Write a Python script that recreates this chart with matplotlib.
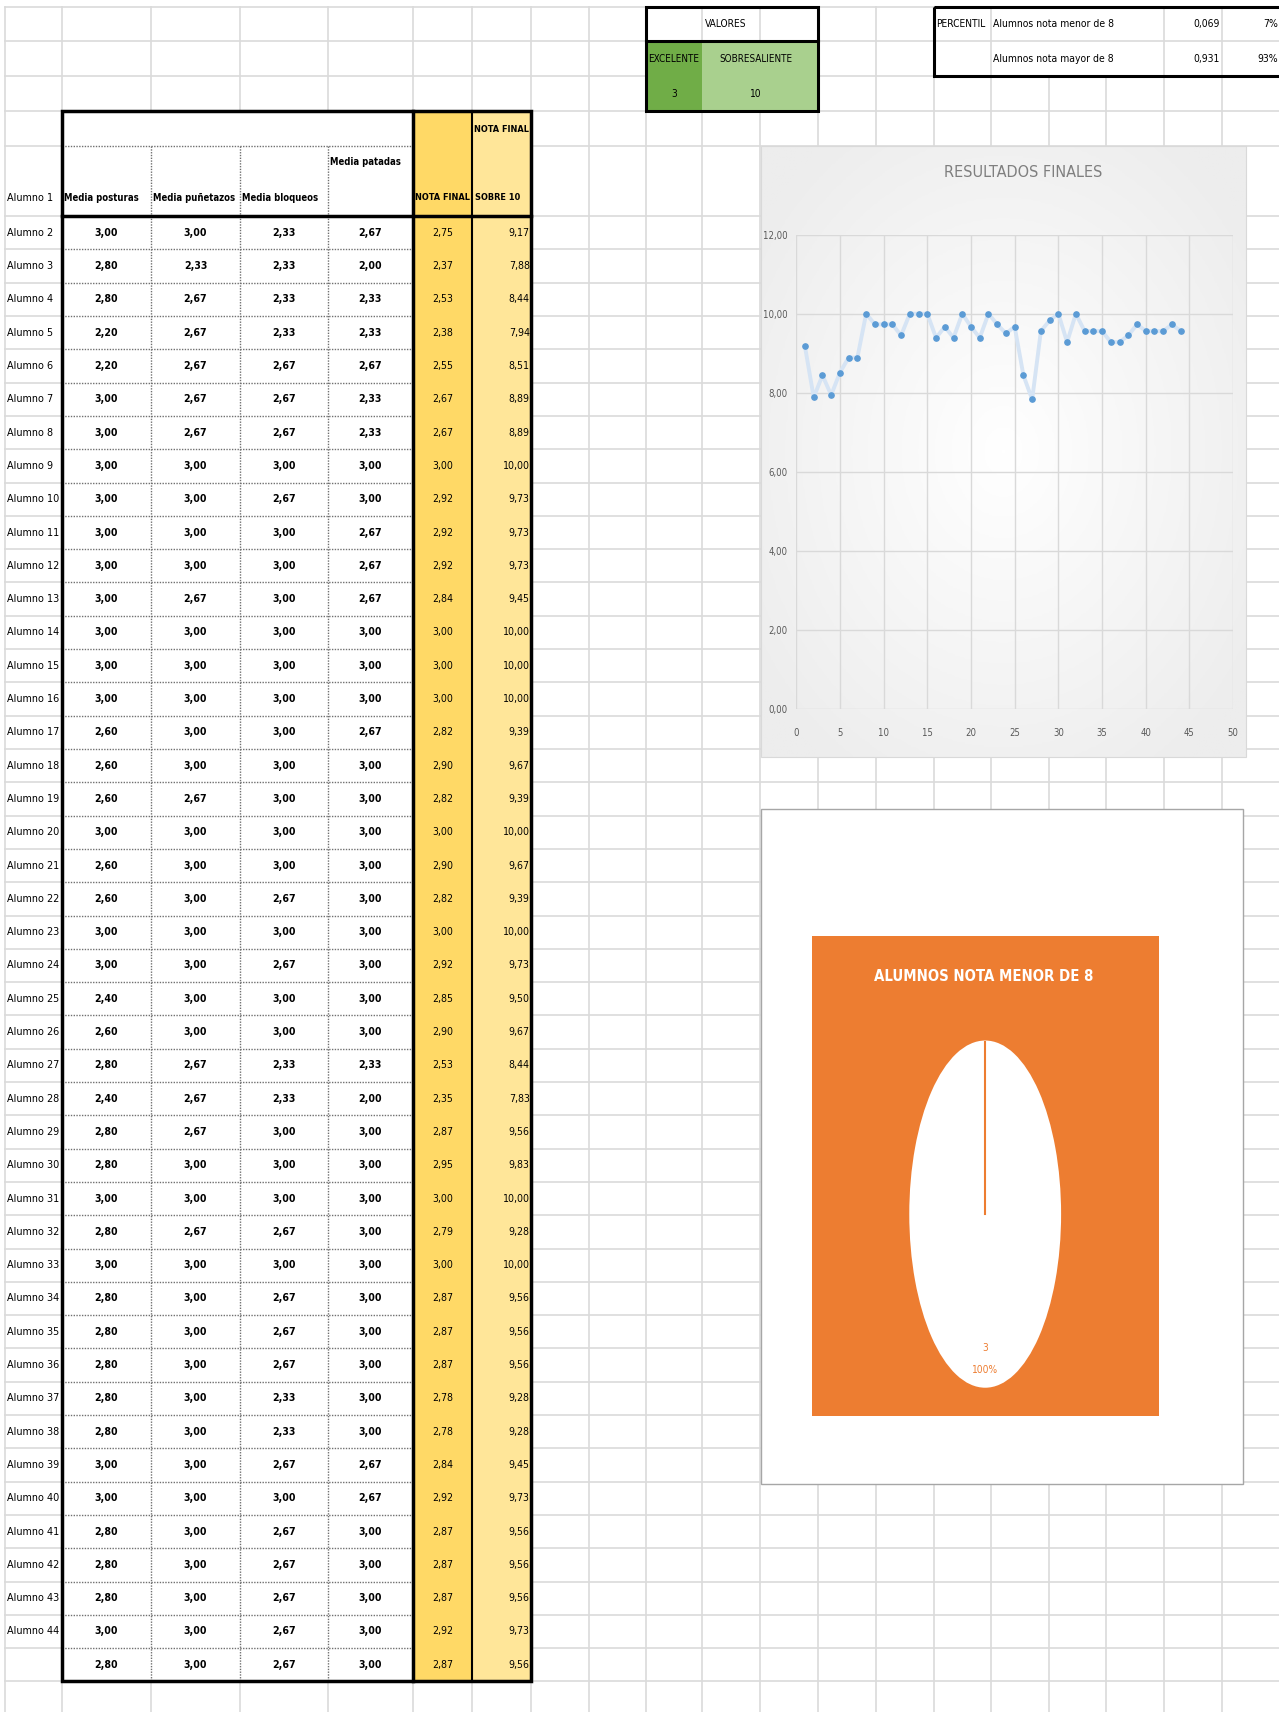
import numpy as np
import matplotlib
matplotlib.use("Agg")
import matplotlib.pyplot as plt
from matplotlib import font_manager
from matplotlib.patches import Rectangle
from matplotlib.colors import LinearSegmentedColormap
from matplotlib.ticker import FuncFormatter, MultipleLocator

# ---- values ----
alumnos = [f"Alumno {n}" for n in range(2, 45)] + [""]   # last row is the summary row

media_posturas = [3.00, 2.80, 2.80, 2.20, 2.20, 3.00, 3.00, 3.00, 3.00, 3.00, 3.00, 3.00, 3.00, 3.00, 3.00,
                  2.60, 2.60, 2.60, 3.00, 2.60, 2.60, 3.00, 3.00, 2.40, 2.60, 2.80, 2.40, 2.80, 2.80, 3.00,
                  2.80, 3.00, 2.80, 2.80, 2.80, 2.80, 2.80, 3.00, 3.00, 2.80, 2.80, 2.80, 3.00, 2.80]
media_punetazos = [3.00, 2.33, 2.67, 2.67, 2.67, 2.67, 2.67, 3.00, 3.00, 3.00, 3.00, 2.67, 3.00, 3.00, 3.00,
                   3.00, 3.00, 2.67, 3.00, 3.00, 3.00, 3.00, 3.00, 3.00, 3.00, 2.67, 2.67, 2.67, 3.00, 3.00,
                   2.67, 3.00, 3.00, 3.00, 3.00, 3.00, 3.00, 3.00, 3.00, 3.00, 3.00, 3.00, 3.00, 3.00]
media_bloqueos = [2.33, 2.33, 2.33, 2.33, 2.67, 2.67, 2.67, 3.00, 2.67, 3.00, 3.00, 3.00, 3.00, 3.00, 3.00,
                  3.00, 3.00, 3.00, 3.00, 3.00, 2.67, 3.00, 2.67, 3.00, 3.00, 2.33, 2.33, 3.00, 3.00, 3.00,
                  2.67, 3.00, 2.67, 2.67, 2.67, 2.33, 2.33, 2.67, 3.00, 2.67, 2.67, 2.67, 2.67, 2.67]
media_patadas = [2.67, 2.00, 2.33, 2.33, 2.67, 2.33, 2.33, 3.00, 3.00, 2.67, 2.67, 2.67, 3.00, 3.00, 3.00,
                 2.67, 3.00, 3.00, 3.00, 3.00, 3.00, 3.00, 3.00, 3.00, 3.00, 2.33, 2.00, 3.00, 3.00, 3.00,
                 3.00, 3.00, 3.00, 3.00, 3.00, 3.00, 3.00, 2.67, 2.67, 3.00, 3.00, 3.00, 3.00, 3.00]
nota_final = [2.75, 2.37, 2.53, 2.38, 2.55, 2.67, 2.67, 3.00, 2.92, 2.92, 2.92, 2.84, 3.00, 3.00, 3.00,
              2.82, 2.90, 2.82, 3.00, 2.90, 2.82, 3.00, 2.92, 2.85, 2.90, 2.53, 2.35, 2.87, 2.95, 3.00,
              2.79, 3.00, 2.87, 2.87, 2.87, 2.78, 2.78, 2.84, 2.92, 2.87, 2.87, 2.87, 2.92, 2.87]
sobre_10 = [9.17, 7.88, 8.44, 7.94, 8.51, 8.89, 8.89, 10.00, 9.73, 9.73, 9.73, 9.45, 10.00, 10.00, 10.00,
            9.39, 9.67, 9.39, 10.00, 9.67, 9.39, 10.00, 9.73, 9.50, 9.67, 8.44, 7.83, 9.56, 9.83, 10.00,
            9.28, 10.00, 9.56, 9.56, 9.56, 9.28, 9.28, 9.45, 9.73, 9.56, 9.56, 9.56, 9.73, 9.56]

headers = ["Media posturas", "Media puñetazos", "Media bloqueos", "Media patadas"]
valores_labels = ["EXCELENTE", "SOBRESALIENTE"]
valores = [3, 10]
percentil_labels = ["Alumnos nota menor de 8", "Alumnos nota mayor de 8"]
percentil_values = [0.069, 0.931]
pie_values = [3]

# ---- font: the sheet uses a narrow face, pick the narrowest one installed ----
fonts = font_manager.fontManager.ttflist
names = {f.name for f in fonts}
STRETCH = "normal"
if "Liberation Sans Narrow" in names:
    plt.rcParams["font.family"] = ["Liberation Sans Narrow", "DejaVu Sans"]
    k = 1.05
elif any(f.name == "DejaVu Sans" and str(f.stretch) in ("condensed", "semi-condensed", "600", "500")
         for f in fonts):
    plt.rcParams["font.family"] = ["DejaVu Sans"]
    STRETCH = "condensed"
    k = 0.86
else:
    plt.rcParams["font.family"] = ["DejaVu Sans"]
    k = 0.78

W, H = 1171, 1568  # layout units of the screenshot
fig = plt.figure(figsize=(12.79, 17.12), dpi=100)
bg = fig.add_axes([0, 0, 1, 1])


def fig_rect(x0, y0, x1, y1):
    return [x0 / W, 1 - y1 / H, (x1 - x0) / W, (y1 - y0) / H]


def txt(x, y, s, size=9, ha="left", bold=False, color="black", z=6):
    bg.text(x, y, s, fontsize=size * k, ha=ha, va="center", color=color, fontstretch=STRETCH,
            fontweight="bold" if bold else "normal", zorder=z)


def fmt(v, d=2):
    return f"{v:.{d}f}".replace(".", ",")


# ---- spreadsheet grid ----
GRID = "#dadada"
ROW_H = 30.5
HEAD_Y = 198
col_x = [5, 57, 138, 220, 300, 378, 432, 486, 539, 591, 643, 696, 749, 802, 855, 907, 960, 1013, 1066, 1119]
row_y = [6, 38, 70, 102, 134] + [HEAD_Y + ROW_H * i for i in range(0, 46)]
for y in row_y:
    bg.plot([5, W], [y, y], color=GRID, lw=1.2, zorder=0)
for x in col_x:
    top = 70 if x in (960, 1013) else 6   # overflow text hides these
    bg.plot([x, x], [top, H], color=GRID, lw=1.2, zorder=0)

# ---- main table ----
T_L, T_R, T_TOP = 57, 486, 102
T_BOT = HEAD_Y + ROW_H * len(alumnos)
C_NF, C_S10 = 378, 432
bg.add_patch(Rectangle((T_L, T_TOP), C_NF - T_L, T_BOT - T_TOP, fc="white", ec="none", zorder=1))
bg.add_patch(Rectangle((C_NF, T_TOP), C_S10 - C_NF, T_BOT - T_TOP, fc="#FFD966", ec="none", zorder=1))
bg.add_patch(Rectangle((C_S10, T_TOP), T_R - C_S10, T_BOT - T_TOP, fc="#FFE699", ec="none", zorder=1))

dot = dict(color="#707070", lw=1.0, ls=(0, (1, 1)), zorder=2)
bg.plot([T_L, C_NF], [134, 134], **dot)
for i in range(1, len(alumnos)):
    y = HEAD_Y + ROW_H * i
    bg.plot([T_L, C_NF], [y, y], **dot)
for x in (138, 220, 300):
    bg.plot([x, x], [134, T_BOT], **dot)

bg.add_patch(Rectangle((T_L, T_TOP), T_R - T_L, T_BOT - T_TOP, fill=False, ec="black", lw=2.5, zorder=4))
bg.plot([T_L, T_R], [HEAD_Y, HEAD_Y], color="black", lw=2.5, zorder=4)
bg.plot([C_NF, C_NF], [T_TOP, T_BOT], color="black", lw=2.5, zorder=4)
bg.plot([C_S10, C_S10], [T_TOP, T_BOT], color="black", lw=1.5, zorder=4)

txt(6, 181, "Alumno 1", 9)
for hx, hy, h in zip([59, 140, 222, 302], [181, 181, 181, 148], headers):
    txt(hx, hy, h, 8.0, bold=True)
txt(380, 181, "NOTA FINAL", 7.7, bold=True)
txt(434, 119, "NOTA FINAL", 7.7, bold=True)
txt(435, 181, "SOBRE 10", 7.7, bold=True)

centers = [97.5, 179, 260, 339]
cols = [media_posturas, media_punetazos, media_bloqueos, media_patadas]
for i, name in enumerate(alumnos):
    yc = HEAD_Y + ROW_H * (i + 0.5)
    txt(6, yc, name, 9)
    for cx, col in zip(centers, cols):
        txt(cx, yc, fmt(col[i]), 8.8, ha="center", bold=True)
    txt(405, yc, fmt(nota_final[i]), 8.8, ha="center")
    txt(485, yc, fmt(sobre_10[i]), 8.8, ha="right")

# ---- VALORES box ----
bg.add_patch(Rectangle((591, 38), 52, 64, fc="#70AD47", ec="none", zorder=1))
bg.add_patch(Rectangle((643, 38), 106, 64, fc="#A9D08E", ec="none", zorder=1))
bg.add_patch(Rectangle((591, 6), 158, 96, fill=False, ec="black", lw=2.2, zorder=4))
bg.plot([591, 749], [38, 38], color="black", lw=2.2, zorder=4)
txt(645, 22, "VALORES", 8.5)
for cx, lab, v in zip([617, 692], valores_labels, valores):
    txt(cx, 54, lab, 8.3, ha="center")
    txt(cx, 86, str(v), 8.5, ha="center")

# ---- PERCENTIL box ----
bg.add_patch(Rectangle((855, 6), 330, 64, fill=False, ec="black", lw=2.2, zorder=4))
txt(857, 22, "PERCENTIL", 8.5)
for yc, lab, v in zip([22, 54], percentil_labels, percentil_values):
    txt(909, yc, lab, 8.7)
    txt(1117, yc, fmt(v, 3), 8.7, ha="right")
    txt(1170, yc, f"{round(v * 100)}%", 8.7, ha="right")

# ---- line chart "RESULTADOS FINALES" ----
gy, gx = np.mgrid[-1:1:200j, -1:1:200j]
shade = np.clip(np.hypot(gx, gy) / 1.25, 0, 1)
bg.imshow(shade, extent=[697, 1141, 693, 134], aspect="auto", zorder=1,
          cmap=LinearSegmentedColormap.from_list("g", ["#ffffff", "#ededed"]))
bg.add_patch(Rectangle((697, 134), 444, 559, fill=False, ec="#d9d9d9", lw=0.8, zorder=2))
txt(937, 158, "RESULTADOS FINALES", 13.5, ha="center", color="#7f7f7f")

ax1 = fig.add_axes(fig_rect(729, 215, 1129, 649))
ax1.set_facecolor("none")
xs = np.arange(1, len(sobre_10) + 1)
ax1.plot(xs, sobre_10, color="#d6e4f4", lw=2.8, zorder=2)
ax1.plot(xs, sobre_10, "o", color="#5B9BD5", ms=3.8, zorder=3)
ax1.set_xlim(0, 50)
ax1.set_ylim(0, 12)
ax1.xaxis.set_major_locator(MultipleLocator(5))
ax1.yaxis.set_major_locator(MultipleLocator(2))
ax1.yaxis.set_major_formatter(FuncFormatter(lambda v, _: fmt(v)))
ax1.grid(True, color="#d9d9d9", lw=1)
ax1.set_axisbelow(True)
for s in ax1.spines.values():
    s.set_visible(False)
ax1.tick_params(length=0, colors="#595959", labelsize=8 * k)
ax1.tick_params(axis="y", pad=6)
ax1.tick_params(axis="x", pad=14)
for lab in ax1.get_xticklabels() + ax1.get_yticklabels():
    lab.set_fontstretch(STRETCH)

# ---- pie chart "ALUMNOS NOTA MENOR DE 8" ----
bg.add_patch(Rectangle((697, 741), 441, 618, fc="white", ec="#a6a6a6", lw=1, zorder=1))
bg.add_patch(Rectangle((743, 857), 318, 440, fc="#ED7D31", ec="none", zorder=2))
txt(901, 894, "ALUMNOS NOTA MENOR DE 8", 12.5, ha="center", bold=True, color="white")

axp = fig.add_axes(fig_rect(832.5, 953, 971.5, 1271))
axp.set_facecolor("none")
total = sum(pie_values)
wedges, _, autotexts = axp.pie(
    pie_values, colors=["white"], startangle=90, radius=1,
    autopct=lambda p: f"{p * total / 100:.0f}\n{p:.0f}%", pctdistance=0.835,
    wedgeprops=dict(edgecolor="none"),
    textprops=dict(color="#ED7D31", fontsize=8.5 * k, linespacing=2.4, fontstretch=STRETCH))
axp.set_aspect("auto")
axp.set_xlim(-1, 1)
axp.set_ylim(-1, 1)
w = wedges[0]
ang = np.deg2rad(w.theta1)
axp.plot([w.center[0], w.center[0] + w.r * np.cos(ang)],
         [w.center[1], w.center[1] + w.r * np.sin(ang)], color="#ED7D31", lw=1.5)

bg.set_xlim(0, W)
bg.set_ylim(H, 0)
bg.axis("off")

fig.savefig("out.png", dpi=100)
